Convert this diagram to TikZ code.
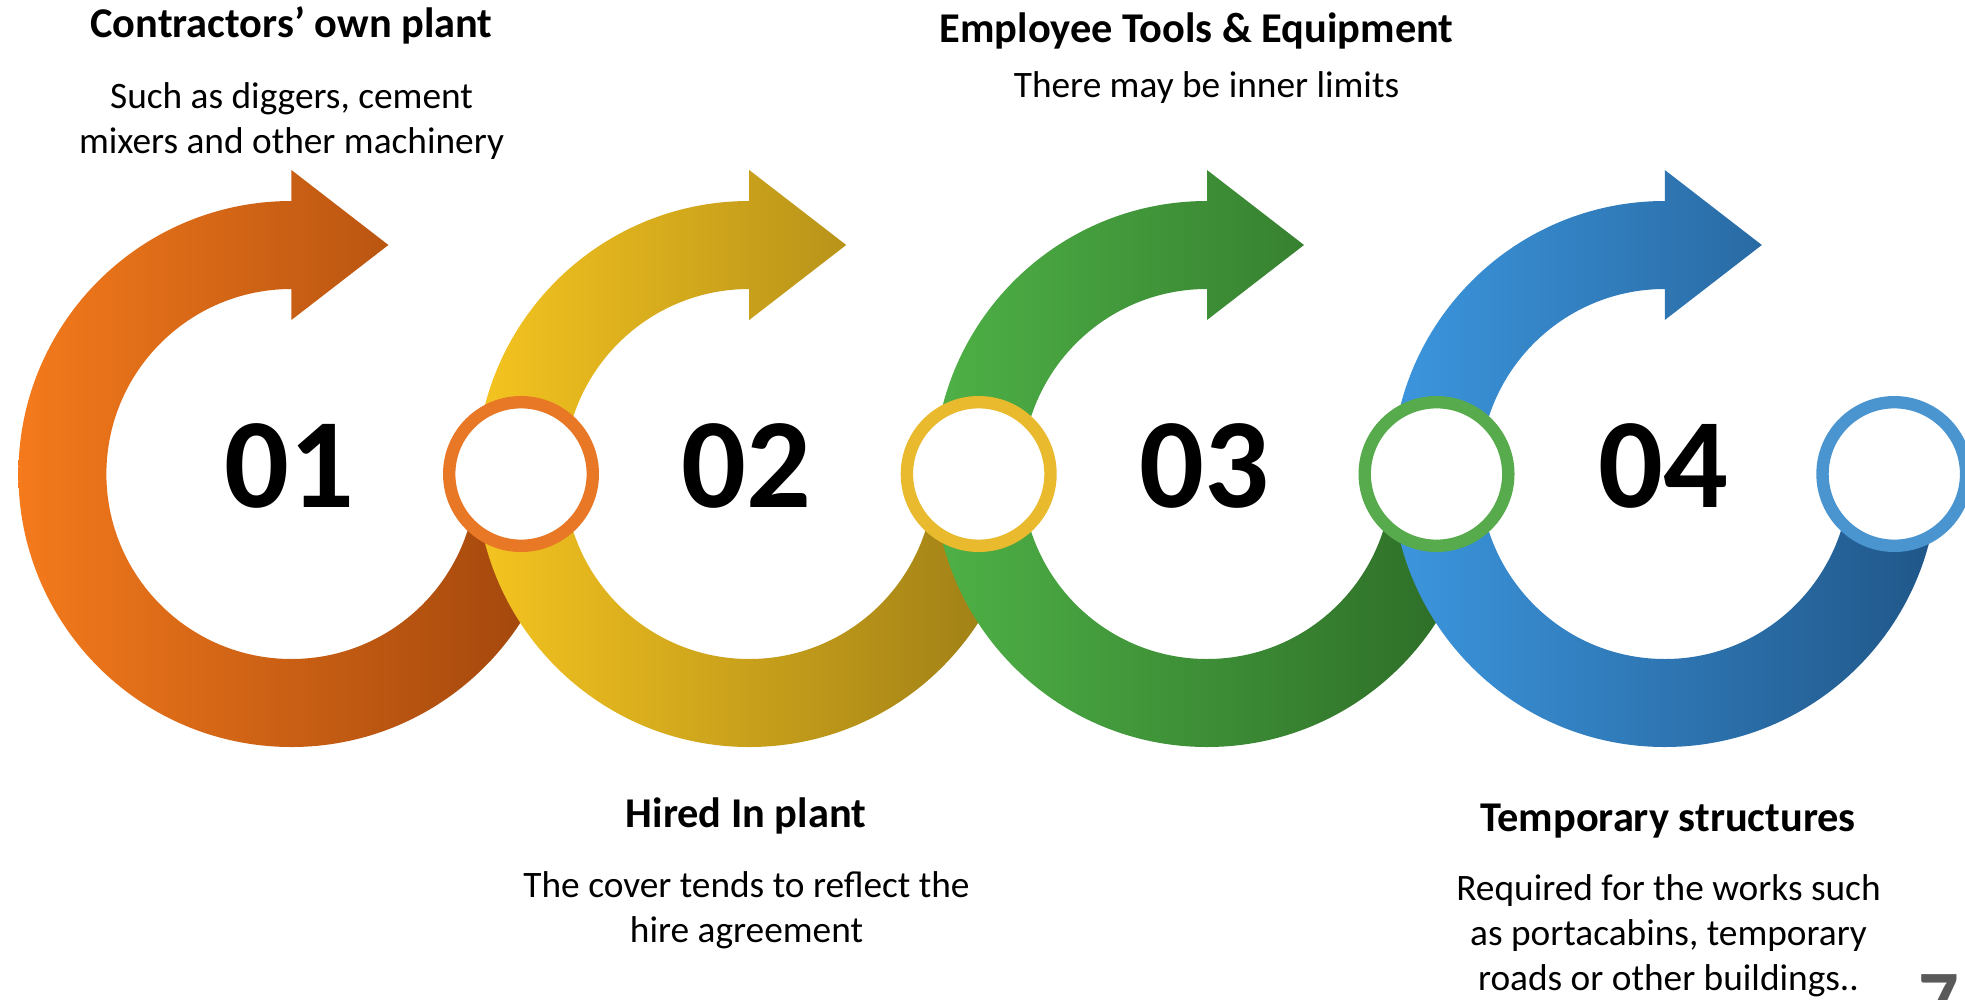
\documentclass[tikz,border=0pt]{standalone}
\usepackage{fontspec}
\setmainfont{Carlito}

\begin{document}
\begin{tikzpicture}[x=0.75pt,y=0.75pt,yscale=-1,xscale=1,
  ring/.style={line width=9.3pt, fill=white},
  stepnum/.style={anchor=base, inner sep=0pt, font=\bfseries\fontsize{96}{115}\selectfont},
  heading/.style={anchor=base, inner sep=0pt, font=\bfseries\fontsize{31.8}{38}\selectfont},
  blurb/.style={anchor=base, inner sep=0pt, align=center, font=\fontsize{28}{33.6}\selectfont}]
%set diagram size to 1965 x 999
\useasboundingbox (0,0) rectangle (1965,999);
\clip (0,0) rectangle (1965,999);

%Shape: Circular Arrow [01]
\path [left color={rgb, 255:red, 244; green, 122; blue, 28 }, right color={rgb, 255:red, 158; green, 68; blue, 12 }] (291.4,201) arc [start angle=270, end angle=0, radius=273] -- (476.4,474) arc [start angle=0, end angle=270, radius=185] -- (291.4,320) -- (388.4,245) -- (291.4,170) -- cycle ;
%Shape: Circular Arrow [02]
\path [left color={rgb, 255:red, 245; green, 196; blue, 32 }, right color={rgb, 255:red, 155; green, 124; blue, 22 }] (749.2,201) arc [start angle=270, end angle=0, radius=273] -- (934.2,474) arc [start angle=0, end angle=270, radius=185] -- (749.2,320) -- (846.2,245) -- (749.2,170) -- cycle ;
%Shape: Circular Arrow [03]
\path [left color={rgb, 255:red, 78; green, 177; blue, 70 }, right color={rgb, 255:red, 44; green, 106; blue, 38 }] (1207,201) arc [start angle=270, end angle=0, radius=273] -- (1392,474) arc [start angle=0, end angle=270, radius=185] -- (1207,320) -- (1304,245) -- (1207,170) -- cycle ;
%Shape: Circular Arrow [04]
\path [left color={rgb, 255:red, 60; green, 150; blue, 222 }, right color={rgb, 255:red, 32; green, 86; blue, 136 }] (1664.8,201) arc [start angle=270, end angle=0, radius=273] -- (1849.8,474) arc [start angle=0, end angle=270, radius=185] -- (1664.8,320) -- (1761.8,245) -- (1664.8,170) -- cycle ;

%Shape: Circle
\draw [ring, draw={rgb, 255:red, 232; green, 119; blue, 38 }] (521,474) circle [radius=71.8] ;
%Shape: Circle
\draw [ring, draw={rgb, 255:red, 233; green, 185; blue, 46 }] (978.7,474) circle [radius=71.8] ;
%Shape: Circle
\draw [ring, draw={rgb, 255:red, 87; green, 171; blue, 76 }] (1436.5,474) circle [radius=71.8] ;
%Shape: Circle
\draw [ring, draw={rgb, 255:red, 74; green, 149; blue, 208 }] (1894.3,474) circle [radius=71.8] ;

% Text Node
\draw (289.4,507) node (num1) [stepnum] {01};
% Text Node
\draw (746.4,507) node (num2) [stepnum] {02};
% Text Node
\draw (1204,507) node (num3) [stepnum] {03};
% Text Node
\draw (1663,507) node (num4) [stepnum] {04};

% Text Node
\draw (291.5,38) node (head1) [heading] {Contractors’ own plant};
% Text Node
\draw (291.5,153) node (blurb1) [blurb] {Such as diggers, cement\\mixers and other machinery};
% Text Node
\draw (1196.5,43) node (head2) [heading] {Employee Tools \& Equipment};
% Text Node
\draw (1206.5,97.5) node (blurb2) [blurb] {There may be inner limits};
% Text Node
\draw (746,827) node (head3) [heading] {Hired In plant};
% Text Node
\draw (746.5,942) node (blurb3) [blurb] {The cover tends to reflect the\\hire agreement};
% Text Node
\draw (1668,831) node (head4) [heading] {Temporary structures};
% Text Node
\draw (1668.5,990) node (blurb4) [blurb] {Required for the works such\\as portacabins, temporary\\roads or other buildings..};

% Text Node
\draw (1918,1026) node (pgno) [anchor=base west, inner sep=0pt, text={rgb, 255:red, 89; green, 89; blue, 89 }, font=\bfseries\fontsize{60}{72}\selectfont] {7};

\end{tikzpicture}
\end{document}
